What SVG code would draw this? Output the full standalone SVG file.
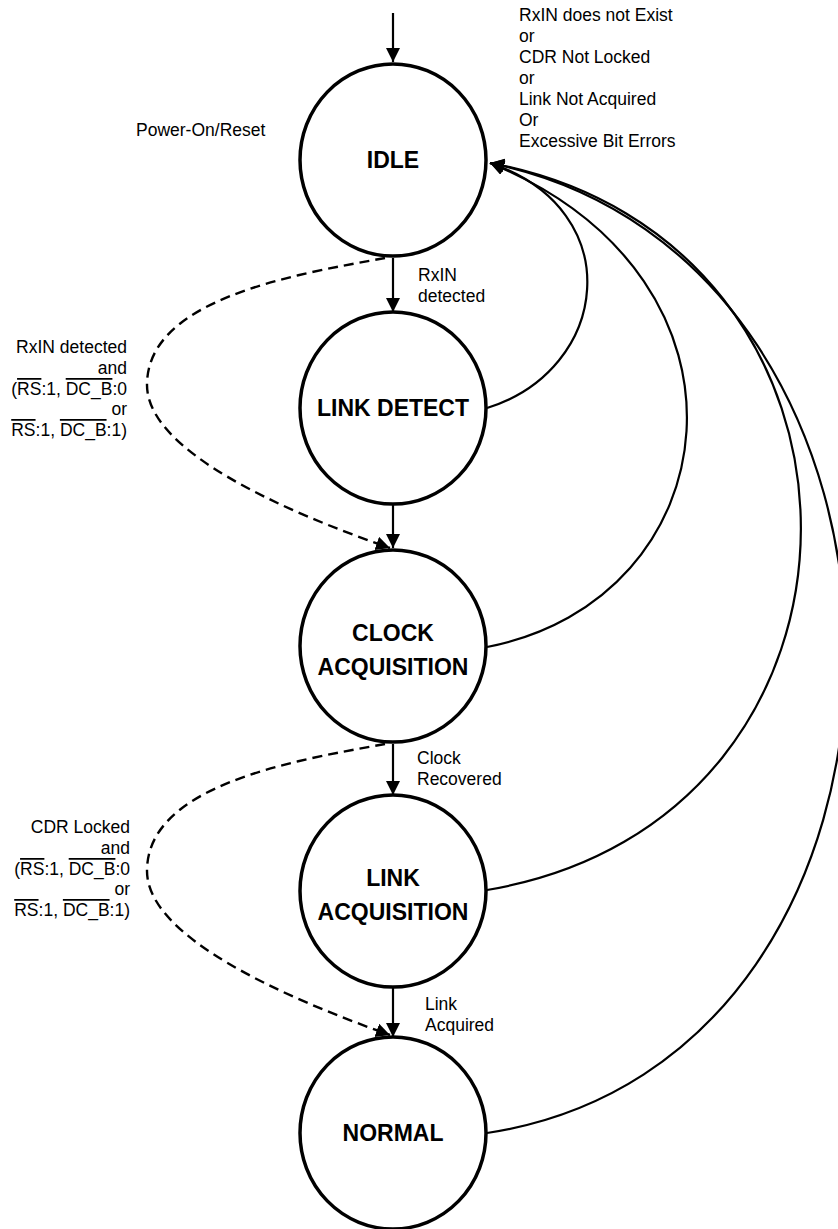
<svg xmlns="http://www.w3.org/2000/svg" width="838" height="1229" viewBox="0 0 838 1229">
<style>
.node{fill:#fff;stroke:#000;stroke-width:3.5}
.lbl{font-family:"Liberation Sans",Arial,sans-serif;font-weight:bold;font-size:23px;text-anchor:middle;fill:#000}
.t{font-family:"Liberation Sans",Arial,sans-serif;font-size:17.5px;fill:#000}
.r{text-anchor:end}
.ol{text-decoration:overline}
.edge{fill:none;stroke:#000;stroke-width:2.2}
.dash{fill:none;stroke:#000;stroke-width:2.4;stroke-dasharray:10 6}
</style>
<defs>
<marker id="ah" markerUnits="userSpaceOnUse" markerWidth="16" markerHeight="16" refX="14" refY="7" orient="auto">
<path d="M0,0 L14,7 L0,14 Z" fill="#000"/>
</marker>
</defs>
<g id="connectors">
<path class="edge" d="M393,13 L393,62" marker-end="url(#ah)"/>
<path class="edge" d="M393,258 L393,312" marker-end="url(#ah)"/>
<path class="edge" d="M393,505 L393,548" marker-end="url(#ah)"/>
<path class="edge" d="M393,744 L393,795" marker-end="url(#ah)"/>
<path class="edge" d="M393,988 L393,1037" marker-end="url(#ah)"/>
<path class="dash" d="M385,258 C290,275 147,300 147,385 C147,450 280,510 390,548" marker-end="url(#ah)"/>
<path class="dash" d="M385,744 C290,761 147,786 147,871 C147,936 280,996 390,1035" marker-end="url(#ah)"/>
<path class="edge" d="M487,408 C610,370 630,210 490,163" marker-end="url(#ah)"/>
<path class="edge" d="M487,647 C730,600 775,280 490,163" marker-end="url(#ah)"/>
<path class="edge" d="M487,890 C905,820 905,240 490,163" marker-end="url(#ah)"/>
<path class="edge" d="M487,1133 C965,1060 965,260 490,163" marker-end="url(#ah)"/>
</g>
<g id="idle">
<ellipse class="node" cx="393" cy="160" rx="93" ry="96"/>
<text class="lbl" x="393" y="168">IDLE</text>
</g>
<g id="link-detect">
<ellipse class="node" cx="393" cy="408" rx="93" ry="96"/>
<text class="lbl" x="393" y="416">LINK DETECT</text>
</g>
<g id="clock-acquisition">
<ellipse class="node" cx="393" cy="646" rx="93" ry="96"/>
<text class="lbl" x="393" y="641">CLOCK</text>
<text class="lbl" x="393" y="675">ACQUISITION</text>
</g>
<g id="link-acquisition">
<ellipse class="node" cx="393" cy="891" rx="93" ry="96"/>
<text class="lbl" x="393" y="886">LINK</text>
<text class="lbl" x="393" y="920">ACQUISITION</text>
</g>
<g id="normal">
<ellipse class="node" cx="393" cy="1133" rx="93" ry="96"/>
<text class="lbl" x="393" y="1141">NORMAL</text>
</g>
<g id="labels">
<text class="t" x="519" y="21">RxIN does not Exist</text>
<text class="t" x="519" y="42">or</text>
<text class="t" x="519" y="63">CDR Not Locked</text>
<text class="t" x="519" y="84">or</text>
<text class="t" x="519" y="105">Link Not Acquired</text>
<text class="t" x="519" y="126">Or</text>
<text class="t" x="519" y="147">Excessive Bit Errors</text>
<text class="t" x="136" y="136">Power-On/Reset</text>
<text class="t" x="418" y="281">RxIN</text>
<text class="t" x="418" y="302">detected</text>
<text class="t" x="417" y="764">Clock</text>
<text class="t" x="417" y="785">Recovered</text>
<text class="t" x="425" y="1010">Link</text>
<text class="t" x="425" y="1031">Acquired</text>
<text class="t r" x="127" y="353">RxIN detected</text>
<text class="t r" x="127" y="374">and</text>
<text class="t r" x="127" y="395">(<tspan class="ol">RS</tspan>:1, <tspan class="ol">DC_B</tspan>:0</text>
<text class="t r" x="127" y="415">or</text>
<text class="t r" x="127" y="436"><tspan class="ol">RS</tspan>:1, <tspan class="ol">DC_B</tspan>:1)</text>
<text class="t r" x="130" y="833">CDR Locked</text>
<text class="t r" x="130" y="854">and</text>
<text class="t r" x="130" y="875">(<tspan class="ol">RS</tspan>:1, <tspan class="ol">DC_B</tspan>:0</text>
<text class="t r" x="130" y="895">or</text>
<text class="t r" x="130" y="916"><tspan class="ol">RS</tspan>:1, <tspan class="ol">DC_B</tspan>:1)</text>
</g>
</svg>
